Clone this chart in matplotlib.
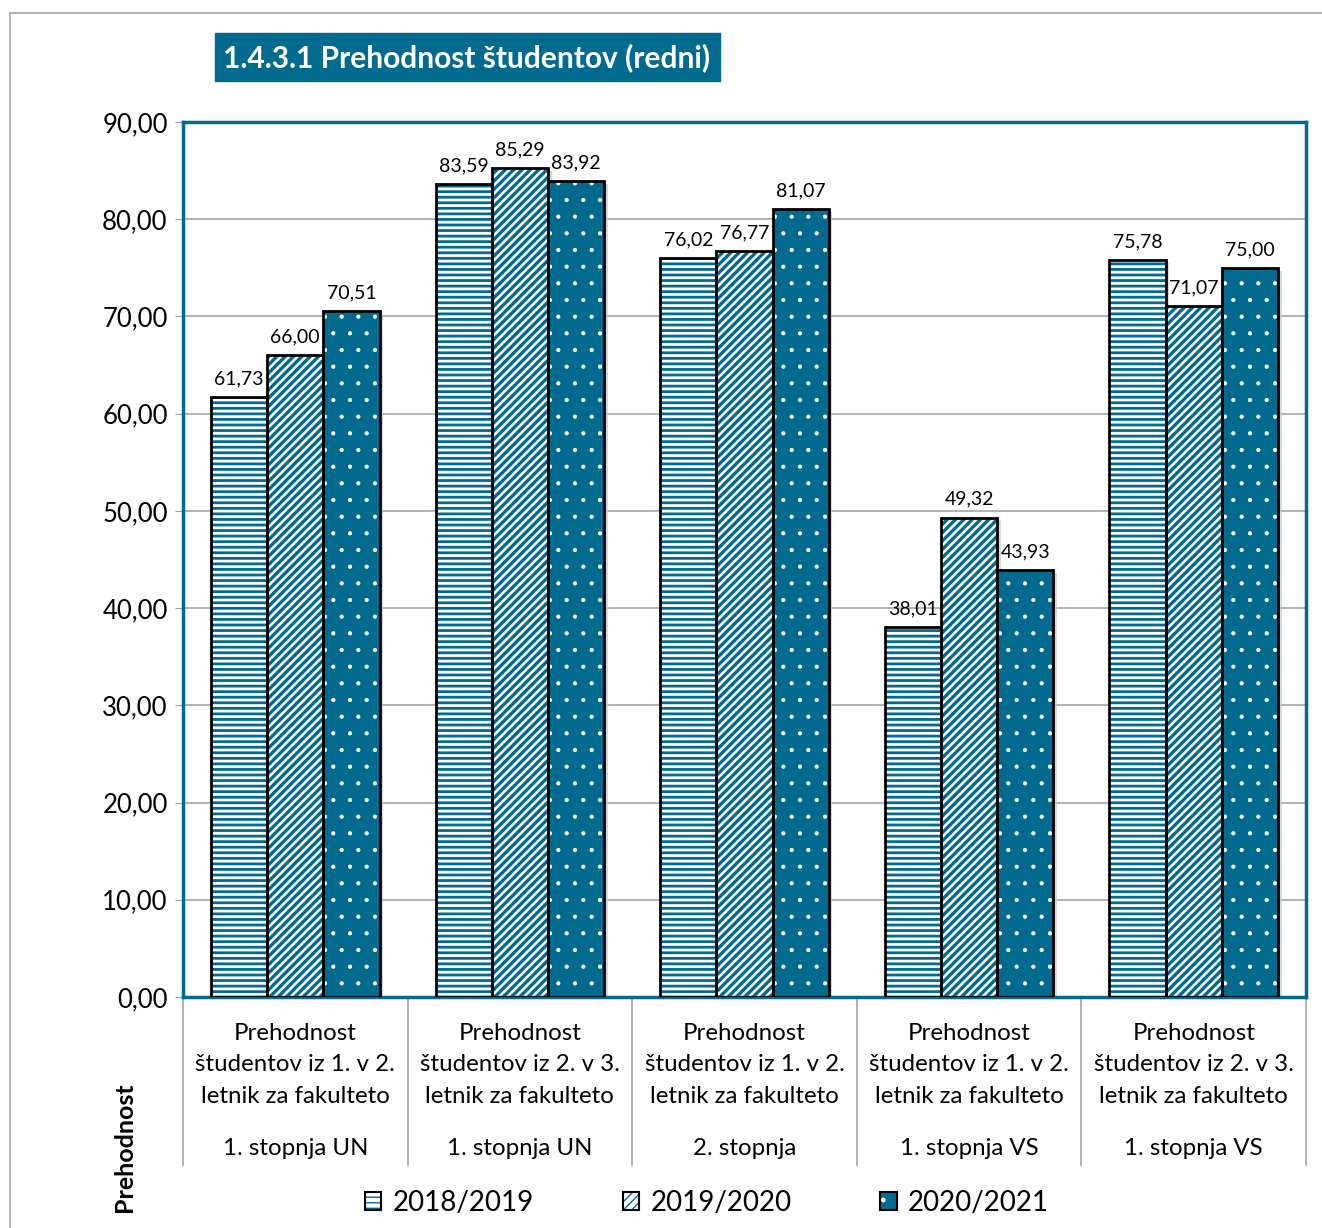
import matplotlib
matplotlib.use("Agg")
import numpy as np
import matplotlib.pyplot as plt
from matplotlib.patches import Patch, Rectangle
from matplotlib.lines import Line2D
from matplotlib.legend_handler import HandlerTuple

plt.rcParams['font.family'] = ['Lato', 'DejaVu Sans']

teal = '#006B8F'

categories = [
    "Prehodnost\nštudentov iz 1. v 2.\nletnik za fakulteto",
    "Prehodnost\nštudentov iz 2. v 3.\nletnik za fakulteto",
    "Prehodnost\nštudentov iz 1. v 2.\nletnik za fakulteto",
    "Prehodnost\nštudentov iz 1. v 2.\nletnik za fakulteto",
    "Prehodnost\nštudentov iz 2. v 3.\nletnik za fakulteto",
]
levels = ["1. stopnja UN", "1. stopnja UN", "2. stopnja", "1. stopnja VS", "1. stopnja VS"]
years = ["2018/2019", "2019/2020", "2020/2021"]
v2018 = [61.73, 83.59, 76.02, 38.01, 75.78]
v2019 = [66.00, 85.29, 76.77, 49.32, 71.07]
v2020 = [70.51, 83.92, 81.07, 43.93, 75.00]
values = [v2018, v2019, v2020]

# fill style per series: face, hatch colour, hatch, hatch width
styles = [('white', teal, '---', 2.0),
          ('white', teal, '////', 2.4),
          (teal, 'white', '.', 0.6)]

fig = plt.figure(figsize=(13.22, 12.28), dpi=100)
ax = fig.add_axes([183/1322, 1-997/1228, 1123/1322, 875/1228])

x = np.arange(len(categories))
w = 0.25
handles = []
for i, (vals, (fc, hc, hatch, hlw)) in enumerate(zip(values, styles)):
    pos = x + (i - 1) * w
    ax.bar(pos + 0.016, np.array(vals) - 0.3, w, color='#c8c8c8', alpha=0.7,
           lw=0, zorder=1.5)
    with plt.rc_context({'hatch.linewidth': hlw}):
        ax.bar(pos, vals, w, facecolor=fc, edgecolor=hc, hatch=hatch, lw=0, zorder=2)
        hp = Patch(facecolor=fc, edgecolor=hc, hatch=hatch, lw=0)
    ax.bar(pos, vals, w, fill=False, edgecolor='black', lw=2, zorder=3)
    op = Patch(fill=False, edgecolor='black', lw=1.5)
    handles.append((hp, op))
    for p, v in zip(pos, vals):
        ax.annotate(f"{v:.2f}".replace('.', ','), (p, v), xytext=(0, 7),
                    textcoords='offset points', ha='center', va='bottom',
                    fontsize=14, zorder=4)

ax.set_xlim(-0.5, len(categories) - 0.5)
ax.set_ylim(0, 90)
ax.set_yticks(np.arange(0, 91, 10))
ax.set_yticklabels([f"{t:.2f}".replace('.', ',') for t in np.arange(0, 91, 10)],
                   fontsize=18.5)
ax.set_xticks([])
ax.tick_params(axis='y', length=6, color='#a0a0a0', pad=5)
ax.grid(axis='y', color='#a6a6a6', lw=1.2)
ax.set_axisbelow(True)
for s in ax.spines.values():
    s.set_color(teal)
    s.set_linewidth(2.5)

# category table below the axis
trans = ax.get_xaxis_transform()
for b in np.arange(-0.5, len(categories), 1.0):
    ax.plot([b, b], [0, -0.192], color='#a6a6a6', lw=1.2, transform=trans,
            clip_on=False)
for xi, cat, lev in zip(x, categories, levels):
    ax.text(xi, -0.0777, cat, transform=trans, ha='center', va='center',
            fontsize=17.3, linespacing=1.62)
    ax.text(xi, -0.1737, lev, transform=trans, ha='center', va='center',
            fontsize=17.3)

fig.text(125/1322, 1-1147/1228, "Prehodnost", rotation=90, ha='center',
         va='center', fontsize=18, fontweight='bold')

# title box
fig.patches.append(Rectangle((215/1322, 1-81/1228), 505/1322, 48/1228,
                             transform=fig.transFigure, color=teal))
fig.text(467/1322, 1-58/1228, "1.4.3.1 Prehodnost študentov (redni)",
         color='white', fontsize=21.5, fontweight='bold', ha='center', va='center')

# outer frame
fig.add_artist(Line2D([10/1322, 1], [1-13/1228, 1-13/1228], color='#a6a6a6',
                      lw=1.2, transform=fig.transFigure))
fig.add_artist(Line2D([10/1322, 10/1322], [0, 1-13/1228], color='#a6a6a6',
                      lw=1.2, transform=fig.transFigure))

fig.legend(handles, years, loc='center', bbox_to_anchor=(707/1322, 1-1203/1228),
           ncol=3, frameon=False, fontsize=20, handlelength=0.6, handleheight=0.6,
           handletextpad=0.4, columnspacing=3.2,
           handler_map={tuple: HandlerTuple(ndivide=1, pad=0)})

fig.savefig("out.png", dpi=100)
